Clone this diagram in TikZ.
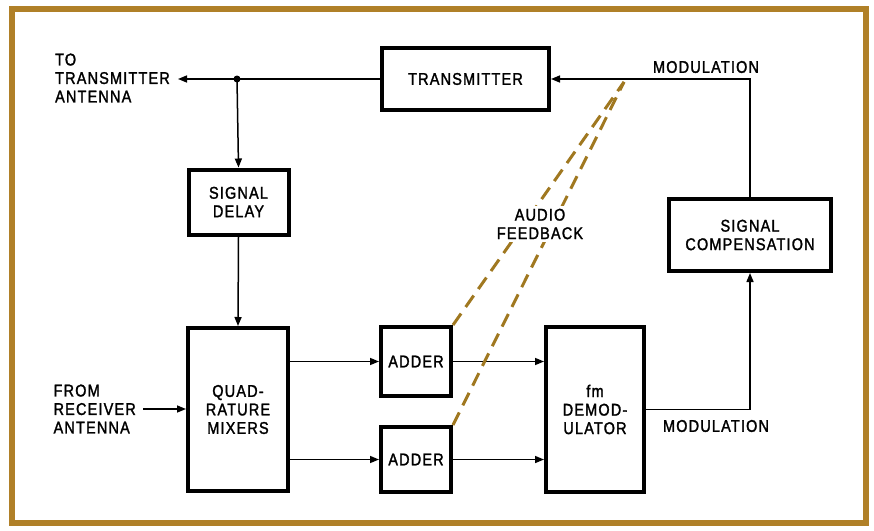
\documentclass[tikz,border=0pt]{standalone}
\usepackage{fontspec}
\setmainfont{Liberation Sans}[FakeStretch=0.85,LetterSpace=7,FakeBold=1.6]
\usetikzlibrary{arrows.meta}
\definecolor{marco}{RGB}{176,128,40}
\definecolor{audio}{RGB}{160,120,32}
\tikzset{
  caja/.style={draw,line width=4pt,align=center,inner sep=0pt},
  flecha/.style={line width=1.5pt,-{Triangle[length=9pt,width=7pt]}},
  texto/.style={align=left,inner sep=1pt},
  audiofb/.style={line width=3pt,color=audio,dash pattern=on 14pt off 8pt}
}
\begin{document}
\begin{tikzpicture}[x=1pt,y=-1pt,font=\fontsize{17}{18.5}\selectfont]
    \useasboundingbox (0,0) rectangle (874,530);
    \fill[white] (0,0) rectangle (874,530);
    \draw[marco,line width=5.5pt] (12,9) rectangle (866,523);

    \node[caja,minimum width=167pt,minimum height=62pt] (tx) at (465.5,79) {TRANSMITTER};
    \node[caja,minimum width=100pt,minimum height=65pt] (delay) at (238.5,202) {SIGNAL\\DELAY};
    \node[caja,minimum width=100pt,minimum height=163pt] (mix) at (238,409.5) {QUAD-\\RATURE\\MIXERS};
    \node[caja,minimum width=70pt,minimum height=69pt] (add1) at (416,361.5) {ADDER};
    \node[caja,minimum width=70pt,minimum height=65pt] (add2) at (416,459.5) {ADDER};
    \node[caja,minimum width=98pt,minimum height=165pt] (demod) at (595,409.5) {fm\\DEMOD-\\ULATOR};
    \node[caja,minimum width=162pt,minimum height=72pt] (comp) at (750,235) {SIGNAL\\COMPENSATION};

    \node[texto,anchor=east] (toant) at (171,78) {TO\\TRANSMITTER\\ANTENNA};
    \node[texto,anchor=east] (fromant) at (137,409) {FROM\\RECEIVER\\ANTENNA};
    \node[texto] (modtop) at (706,67) {MODULATION};
    \node[texto] (modbot) at (716,426) {MODULATION};

    \coordinate (j) at (237,79);
    \coordinate (fb) at (624,82);

    \draw[flecha] (tx.west) -- ([xshift=7pt]toant.east |- tx.west);
    \fill (j) circle (3.5pt);
    \draw[flecha] (j) -- (delay.north);
    \draw[flecha] (delay.south) -- (mix.north);
    \draw[flecha] ([xshift=6pt]fromant.east) -- (mix.west |- fromant.east);
    \draw[flecha] (mix.east |- add1.west) -- (add1.west);
    \draw[flecha] (mix.east |- add2.west) -- (add2.west);
    \draw[flecha] (add1.east) -- (demod.west |- add1.east);
    \draw[flecha] (add2.east) -- (demod.west |- add2.east);
    \draw[flecha] (demod.east) -| (comp.south);
    \draw[flecha] (comp.north) |- (tx.east);

    \draw[audiofb] (add1.north east) -- (fb);
    \draw[audiofb] (add2.north east) -- (fb);
    \node[align=center,inner sep=3pt,fill=white] (fbtext) at (540,224) {AUDIO\\FEEDBACK};
\end{tikzpicture}
\end{document}
